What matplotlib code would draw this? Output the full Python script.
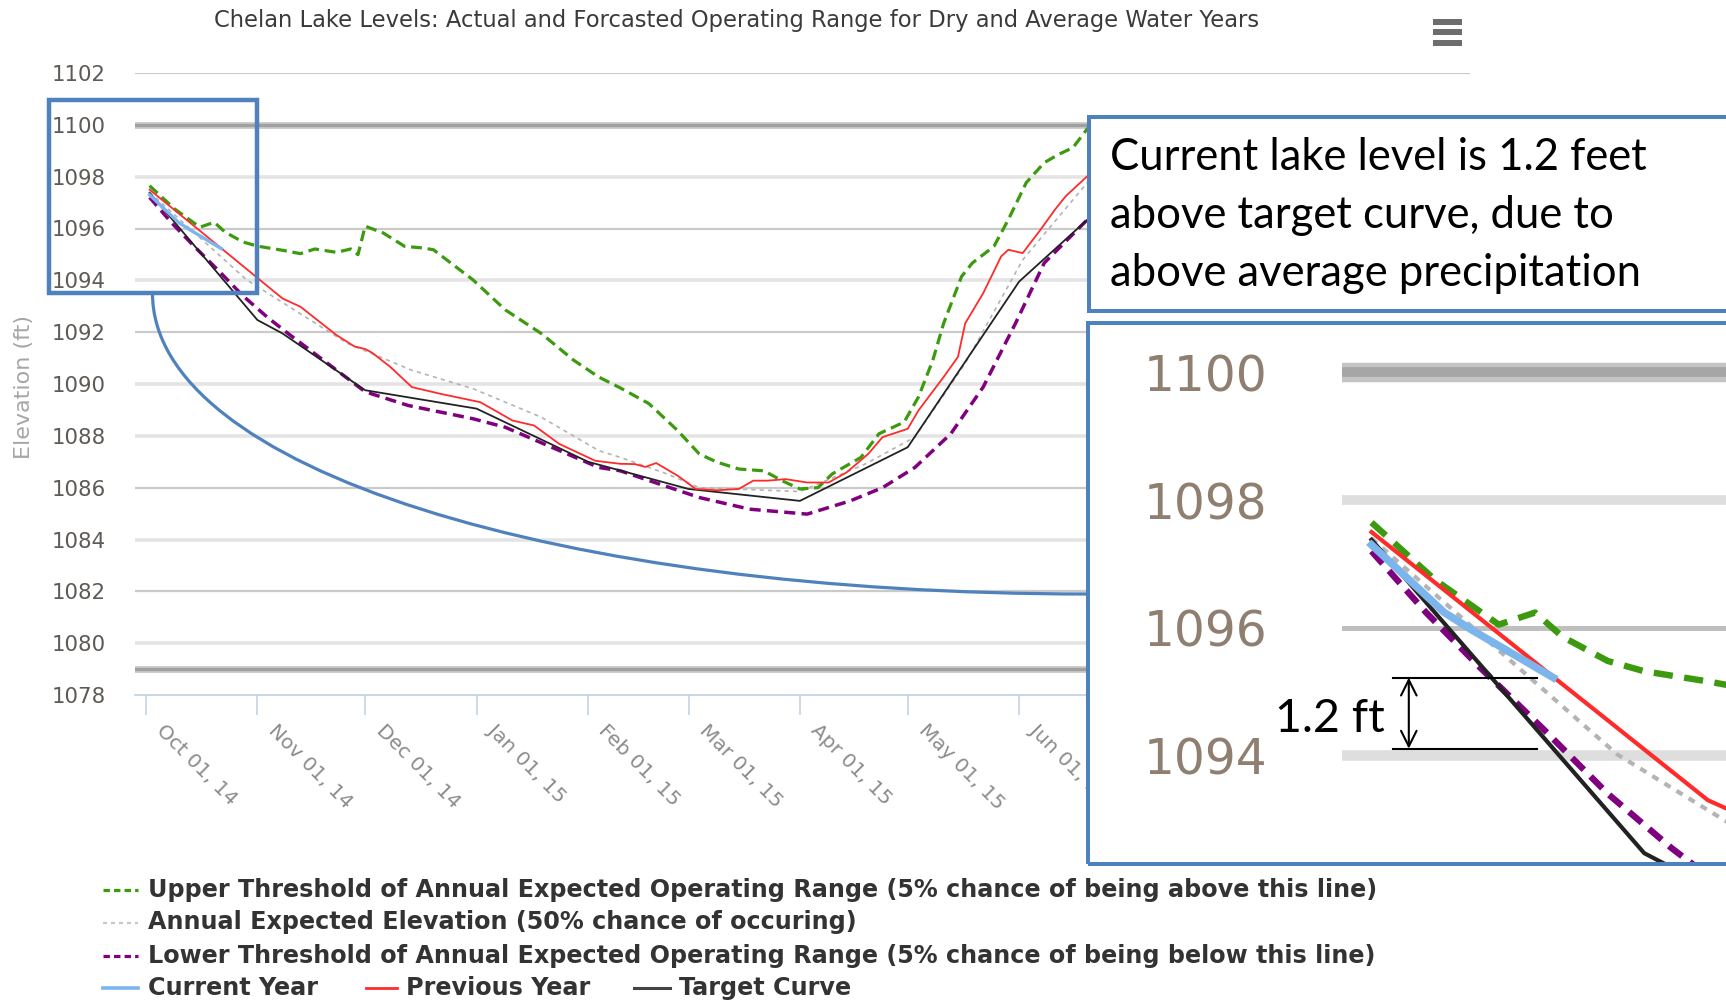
import numpy as np
import matplotlib
matplotlib.use("Agg")
import matplotlib.pyplot as plt
import matplotlib.dates as mdates
from matplotlib.patches import Rectangle, PathPatch
from matplotlib.path import Path
from matplotlib.lines import Line2D
from matplotlib.transforms import ScaledTranslation

W, H = 1726, 1001
START = np.datetime64("2014-10-01")

TITLE = "Chelan Lake Levels: Actual and Forcasted Operating Range for Dry and Average Water Years"
Y_TICKS = list(range(1078, 1103, 2))
REF_LEVELS = [1100, 1079]
INSET_TICKS = [1094, 1096, 1098, 1100]

# days after Oct 01 2014 -> elevation (ft)
upper_days = [1, 8, 15, 19, 22, 27, 31, 38, 43, 47, 53, 57, 59, 61, 66, 72, 77, 80, 91, 100,
              110, 119, 126, 132, 140, 148, 154, 159, 165, 172, 177, 182, 187, 191, 199, 204,
              211, 215, 219, 222, 227, 230, 236, 240, 245, 250, 254, 258, 262, 268]
upper_vals = [1097.65, 1096.75, 1096.05, 1096.24, 1095.86, 1095.48, 1095.32, 1095.16, 1095.03, 1095.21,
              1095.08, 1095.21, 1094.99, 1096.09, 1095.83, 1095.31, 1095.25, 1095.18, 1094.02, 1092.86,
              1091.95, 1090.92, 1090.27, 1089.85, 1089.24, 1088.2, 1087.3, 1086.98, 1086.72, 1086.65,
              1086.27, 1085.95, 1086.0, 1086.53, 1087.17, 1088.08, 1088.53, 1089.5, 1090.92, 1092.34,
              1094.15, 1094.67, 1095.31, 1096.34, 1097.77, 1098.54, 1098.86, 1099.12, 1099.85, 1100.4]

expected_days = [1, 28, 56, 74, 91, 110, 126, 132, 145, 154, 182, 200, 214, 228, 244, 262, 268]
expected_vals = [1097.4, 1094.02, 1091.57, 1090.53, 1089.82, 1088.72, 1087.43, 1087.17, 1086.53,
                 1086.0, 1085.85, 1086.9, 1087.95, 1090.79, 1094.79, 1097.77, 1098.5]

lower_days = [1, 7, 13, 20, 27, 34, 40, 61, 73, 91, 100, 126, 132, 154, 168, 184, 196, 205, 214,
              224, 233, 242, 250, 262, 268]
lower_vals = [1097.2, 1096.24, 1095.37, 1094.4, 1093.4, 1092.55, 1091.9, 1089.7, 1089.17, 1088.66,
              1088.33, 1086.78, 1086.65, 1085.62, 1085.17, 1084.98, 1085.49, 1086.0, 1086.78,
              1088.08, 1089.88, 1092.34, 1094.67, 1096.34, 1097.0]

current_days = [1, 9, 12, 21]
current_vals = [1097.3, 1096.24, 1095.97, 1095.22]

prev_days = [1, 27, 38, 43, 53, 58, 61, 63, 68, 74, 82, 93, 98, 102, 108, 115, 125, 132,
             136, 139, 142, 148, 153, 159, 165, 169, 173, 178, 184, 190, 195, 201, 205, 212, 215,
             222, 226, 228, 233, 238, 240, 244, 249, 253, 256, 262, 268]
prev_vals = [1097.5, 1094.55, 1093.3, 1092.98, 1091.89, 1091.45, 1091.35, 1091.2,
             1090.66, 1089.88, 1089.62, 1089.3, 1088.91, 1088.59, 1088.4, 1087.69, 1087.04, 1086.92,
             1086.91, 1086.8, 1086.95, 1086.46, 1085.95, 1085.9, 1085.95, 1086.27, 1086.27, 1086.33,
             1086.2, 1086.2, 1086.59, 1087.3, 1087.95, 1088.27, 1088.98, 1090.27, 1091.05, 1092.34,
             1093.5, 1094.92, 1095.18, 1095.05, 1095.96, 1096.73, 1097.25, 1098.02, 1098.6]

target_days = [1, 31, 38, 61, 92, 123, 151, 182, 212, 243, 262, 268]
target_vals = [1097.38, 1092.47, 1091.95, 1089.76, 1089.05, 1087.0, 1085.95, 1085.49, 1087.56,
               1093.95, 1096.34, 1097.0]

legend_rows = [
    "Upper Threshold of Annual Expected Operating Range (5% chance of being above this line)",
    "Annual Expected Elevation (50% chance of occuring)",
    "Lower Threshold of Annual Expected Operating Range (5% chance of being below this line)",
]
legend_last = ["Current Year", "Previous Year", "Target Curve"]

callout_lines = ["Current lake level is 1.2 feet",
                 "above target curve, due to",
                 "above average precipitation"]

GREEN = "#3c9a0f"
PURPLE = "#800080"
GRAY = "#b4b4b4"
RED = "#ff2b2b"
BLACK = "#222222"
LBLUE = "#7cb5ec"
BOX = "#4f81bd"


def fx(px):
    return px / W


def fy(py):
    return 1 - py / H


def to_dates(days):
    return START + np.array(days).astype("timedelta64[D]")


d0 = mdates.date2num(START)

fig = plt.figure(figsize=(W / 100, H / 100), dpi=100)
ax = fig.add_axes([fx(135), fy(695), (1470 - 135) / W, (695 - 73) / H])

# grid
wide = {1098, 1094, 1090, 1088, 1084, 1080}
for lev in Y_TICKS[1:]:
    if lev in wide:
        ax.axhline(lev, color="#e4e4e4", lw=2.6, zorder=0)
    else:
        ax.axhline(lev, color="#cacaca", lw=1.6, zorder=0)
for lev in REF_LEVELS:
    ax.axhline(lev, color="#cccccc", lw=5, zorder=0.5)
    ax.axhline(lev, color="#a0a0a0", lw=2.4, zorder=0.6)

main_style = [
    (expected_days, expected_vals, dict(color=GRAY, lw=1.2, dashes=(2.5, 2.5))),
    (upper_days, upper_vals, dict(color=GREEN, lw=2.3, dashes=(3.4, 1.8))),
    (lower_days, lower_vals, dict(color=PURPLE, lw=2.5, dashes=(3.2, 1.8))),
    (target_days, target_vals, dict(color=BLACK, lw=1.3)),
    (prev_days, prev_vals, dict(color=RED, lw=1.3)),
    (current_days, current_vals, dict(color=LBLUE, lw=2.4)),
]
for days, vals, st in main_style:
    ax.plot(to_dates(days), vals, **st)

ax.set_ylim(1078, 1102)
ax.set_xlim(d0 - 3.06, d0 + 368.5)
ax.set_yticks(Y_TICKS)
ax.xaxis.set_major_locator(mdates.MonthLocator())
ax.xaxis.set_major_formatter(mdates.DateFormatter("%b %d, %y"))
for s in ["left", "top", "right"]:
    ax.spines[s].set_visible(False)
ax.spines["bottom"].set_color("#c0d0e0")
ax.spines["bottom"].set_linewidth(1.2)
ax.tick_params(axis="y", length=0, pad=21, labelsize=15.3, labelcolor="#5e5a56")
ax.tick_params(axis="x", length=14.4, width=1.1, color="#c0d0e0", pad=4.3,
               labelsize=14.5, labelcolor="#8c8c8c")
off = ScaledTranslation(7 / 100, 0, fig.dpi_scale_trans)
for lab in ax.get_xticklabels():
    lab.set_rotation(-45)
    lab.set_ha("left")
    lab.set_va("top")
    lab.set_transform(lab.get_transform() + off)
ax.set_ylabel("Elevation (ft)", fontsize=16, color="#a6a6a6")
ax.yaxis.set_label_coords((34 - 135) / 1335, (695 - 387) / 622)

fig.text(fx(737), fy(20), TITLE, ha="center", va="center", fontsize=16.3, color="#3a3a3a")

# menu icon
for yc in [22.3, 32.3, 42.7]:
    fig.add_artist(Rectangle((fx(1433), fy(yc + 3)), 29 / W, 6 / H, transform=fig.transFigure,
                             color="#6d6d6d", lw=0))

# legend, drawn row by row
leg_y = [889.5, 922.5, 955.5]
leg_st = [dict(color=GREEN, lw=2.3, dashes=(2.0, 1.3)),
          dict(color="#c8c8c8", lw=1.6, dashes=(1.8, 1.8)),
          dict(color=PURPLE, lw=2.3, dashes=(2.0, 1.3))]
for txt, yy, st in zip(legend_rows, leg_y, leg_st):
    fig.add_artist(Line2D([fx(103), fx(138)], [fy(yy)] * 2, transform=fig.transFigure, **st))
    fig.text(fx(148), fy(yy), txt, ha="left", va="center", fontsize=17.2,
             fontweight="bold", color="#333333")
last_h = [(103, 138, 148), (366, 397, 406), (634, 670, 679)]
last_st = [dict(color=LBLUE, lw=2.6), dict(color=RED, lw=2.0), dict(color="#444444", lw=2.2)]
for txt, (h0, h1, tx), st in zip(legend_last, last_h, last_st):
    fig.add_artist(Line2D([fx(h0), fx(h1)], [fy(988.3)] * 2, transform=fig.transFigure, **st))
    fig.text(fx(tx), fy(988.3), txt, ha="left", va="center", fontsize=17.2,
             fontweight="bold", color="#333333")

# highlight rectangle and connector curve
fig.add_artist(Rectangle((fx(48.8), fy(293.3)), (256.6 - 48.8) / W, (293.3 - 100) / H,
                         transform=fig.transFigure, fill=False, ec=BOX, lw=3.2, zorder=5))
pts = [(152.5, 293.3), (152.5, 293.3 + 175), (1088 - 530, 594), (1088, 594)]
curve = Path([(fx(a), fy(b)) for a, b in pts],
             [Path.MOVETO, Path.CURVE4, Path.CURVE4, Path.CURVE4])
fig.add_artist(PathPatch(curve, transform=fig.transFigure, fill=False, ec=BOX, lw=2.3, zorder=5))

# callout box
fig.add_artist(Rectangle((fx(1089), fy(310.7)), (1780 - 1089) / W, (310.7 - 116.7) / H,
                         transform=fig.transFigure, fc="white", ec=BOX, lw=2.9, zorder=6))
for txt, base in zip(callout_lines, [170, 228, 285.5]):
    fig.text(fx(1110), fy(base), txt, ha="left", va="baseline", fontsize=31.4,
             family="Lato", color="black", zorder=9)

# inset box + zoomed axes
fig.add_artist(Rectangle((fx(1087.6), fy(864)), (1780 - 1087.6) / W, (864 - 322.7) / H,
                         transform=fig.transFigure, fc="white", ec="none", zorder=6))
fig.add_artist(Rectangle((fx(1087.6), fy(864)), (1780 - 1087.6) / W, (864 - 322.7) / H,
                         transform=fig.transFigure, fill=False, ec=BOX, lw=2.9, zorder=8))

ax2 = fig.add_axes([fx(1342), fy(864), (1726 - 1342) / W, (864 - 322.7) / H], zorder=7)
ax2.set_facecolor("none")
for s in ax2.spines.values():
    s.set_visible(False)
ax2.axhline(1100, color="#c4c4c4", lw=14, zorder=0)
ax2.axhline(1100, color="#a6a6a6", lw=7, zorder=0.1)
ax2.axhline(1098, color="#dedede", lw=7, zorder=0)
ax2.axhline(1096, color="#bfbfbf", lw=3.6, zorder=0)
ax2.axhline(1094, color="#dedede", lw=7.6, zorder=0)

inset_style = [
    (expected_days, expected_vals, dict(color=GRAY, lw=3.0, dashes=(1.7, 1.7))),
    (upper_days, upper_vals, dict(color=GREEN, lw=4.6, dashes=(3.0, 1.8))),
    (lower_days, lower_vals, dict(color=PURPLE, lw=4.6, dashes=(2.6, 1.5))),
    (target_days, target_vals, dict(color=BLACK, lw=3.0)),
    (prev_days, prev_vals, dict(color=RED, lw=3.0)),
    (current_days, current_vals, dict(color=LBLUE, lw=5.5)),
]
for days, vals, st in inset_style:
    ax2.plot(to_dates(days), vals, **st)
ax2.set_xlim(d0 - 2.25, d0 + 40.0)
ax2.set_ylim(1092.30, 1100.78)
ax2.set_xticks([])
ax2.set_yticks(INSET_TICKS)
ax2.tick_params(axis="y", length=0, pad=54, labelsize=35, labelcolor="#8f7f70")

# 1.2 ft marker: current level vs target on the same day
upper = current_vals[-1]
lower = float(np.interp(current_days[-1], target_days, target_vals))
x0, x1, xa = d0 + 3.4, d0 + 19.2, d0 + 5.1
ax2.plot([x0, x1], [upper, upper], color="black", lw=1.5, zorder=5)
ax2.plot([x0, x1], [lower, lower], color="black", lw=1.5, zorder=5)
ax2.annotate("", xy=(xa, lower), xytext=(xa, upper),
             arrowprops=dict(arrowstyle="<->", color="black", lw=1.5, mutation_scale=28,
                             shrinkA=0, shrinkB=0), zorder=6)
fig.text(fx(1385), fy(731.5), "1.2 ft", ha="right", va="baseline", fontsize=33.5,
         family="Lato", color="black", zorder=9)

fig.savefig("out.png", dpi=100)
